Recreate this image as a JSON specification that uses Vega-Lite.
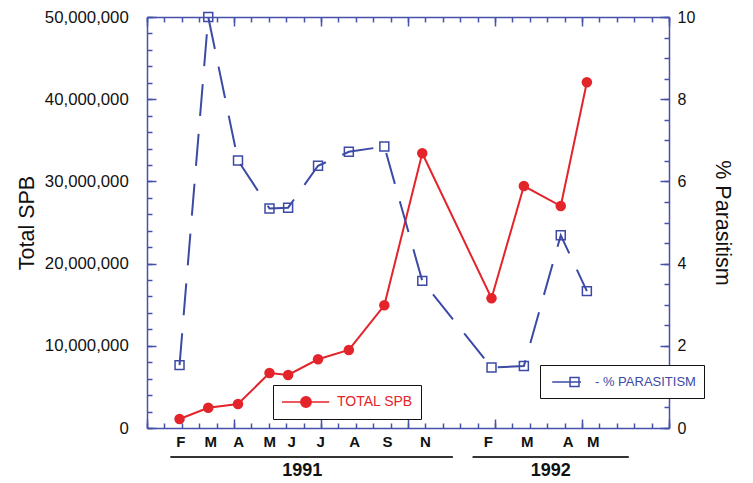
{
  "$schema": "https://vega.github.io/schema/vega-lite/v6.json",
  "width": 522,
  "height": 411,
  "padding": {"left": 16, "top": 9, "right": 5, "bottom": 5},
  "background": "white",
  "config": {
    "view": {"stroke": null},
    "axis": {
      "domain": false,
      "grid": false,
      "tickColor": "#4652a8",
      "tickWidth": 1.5,
      "tickOpacity": 1,
      "domainColor": "#4652a8",
      "domainWidth": 1.5,
      "labelFont": "Liberation Sans",
      "titleFont": "Liberation Sans",
      "labelColor": "#111111",
      "titleColor": "#111111",
      "titleFontWeight": "normal",
      "labelFlush": false,
      "labelOverlap": false
    }
  },
  "data": {
    "values": [
      {"year": 1991, "month": "F", "t": 1.87, "spb": 1100000, "pct": 1.53},
      {"year": 1991, "month": "M", "t": 3.52, "spb": 2470000, "pct": 10.0},
      {"year": 1991, "month": "A", "t": 5.23, "spb": 2920000, "pct": 6.51},
      {"year": 1991, "month": "M", "t": 7.04, "spb": 6690000, "pct": 5.34},
      {"year": 1991, "month": "J", "t": 8.11, "spb": 6450000, "pct": 5.36},
      {"year": 1991, "month": "J", "t": 9.83, "spb": 8360000, "pct": 6.38},
      {"year": 1991, "month": "A", "t": 11.6, "spb": 9490000, "pct": 6.72},
      {"year": 1991, "month": "S", "t": 13.64, "spb": 14930000, "pct": 6.85},
      {"year": 1991, "month": "N", "t": 15.82, "spb": 33420000, "pct": 3.58},
      {"year": 1992, "month": "F", "t": 19.8, "spb": 15780000, "pct": 1.47},
      {"year": 1992, "month": "M", "t": 21.66, "spb": 29440000, "pct": 1.51},
      {"year": 1992, "month": "A", "t": 23.78, "spb": 27000000, "pct": 4.69},
      {"year": 1992, "month": "M", "t": 25.28, "spb": 42060000, "pct": 3.33}
    ]
  },
  "layer": [
    {
      "layer": [
        {
          "mark": {"type": "line", "color": "#e3242b", "strokeWidth": 2},
          "encoding": {
            "x": {
              "field": "t", "type": "quantitative",
              "scale": {"domain": [0, 30], "nice": false, "zero": false},
              "axis": {
                "orient": "bottom",
                "values": [1.91, 3.64, 5.24, 7.02, 8.28, 9.95, 11.9, 13.79, 15.97, 19.59, 21.83, 24.18, 25.62],
                "labelExpr": "['F','M','A','M','J','J','A','S','N','F','M','A','M'][indexof([1.91,3.64,5.24,7.02,8.28,9.95,11.9,13.79,15.97,19.59,21.83,24.18,25.62], datum.value)]",
                "ticks": false, "tickSize": 0,
                "labelPadding": 6, "labelFontSize": 15, "labelFontWeight": "bold",
                "labelBaseline": "top", "labelColor": "#111111",
                "title": null
              }
            },
            "y": {
              "field": "spb", "type": "quantitative",
              "scale": {"domain": [0, 50000000], "nice": false, "zero": false},
              "axis": {
                "orient": "left",
                "values": [0, 10000000, 20000000, 30000000, 40000000, 50000000],
                "format": ",d",
                "domain": true, "ticks": true, "tickSize": -9, "zindex": 1,
                "labelPadding": 27.7, "labelFontSize": 16.8,
                "title": "Total SPB", "titleFontSize": 21.5, "titlePadding": 6
              }
            }
          }
        },
        {
          "mark": {"type": "point", "shape": "circle", "filled": true, "size": 110, "opacity": 1},
          "encoding": {
            "x": {
              "field": "t", "type": "quantitative",
              "axis": {
                "orient": "bottom",
                "values": [0,1,2,3,4,5,6,7,8,9,10,11,12,13,14,15,16,17,18,19,20,21,22,23,24,25,26,27,28,29,30],
                "labels": false, "ticks": true, "tickSize": -5, "zindex": 1, "title": null
              }
            },
            "y": {
              "field": "spb", "type": "quantitative",
              "axis": {
                "orient": "left",
                "values": [0,2000000,4000000,6000000,8000000,10000000,12000000,14000000,16000000,18000000,20000000,22000000,24000000,26000000,28000000,30000000,32000000,34000000,36000000,38000000,40000000,42000000,44000000,46000000,48000000,50000000],
                "labels": false, "ticks": true, "tickSize": -5, "zindex": 1, "title": null
              }
            },
            "color": {
              "datum": "TOTAL SPB", "type": "nominal",
              "scale": {"domain": ["TOTAL SPB"], "range": ["#e3242b"]},
              "legend": {
                "title": null, "orient": "none", "legendX": 126, "legendY": 368, "zindex": 3,
                "symbolType": "M-1,0H4.9M2.65,0A0.65,0.65,0,1,1,1.35,0A0.65,0.65,0,1,1,2.65,0Z",
                "symbolSize": 256,
                "symbolFillColor": "#e3242b", "symbolStrokeColor": "#e3242b", "symbolStrokeWidth": 1.5,
                "labelColor": "#e3242b", "labelFontSize": 14, "labelFont": "Liberation Sans",
                "labelOffset": 38, "padding": 8,
                "strokeColor": "#111111", "fillColor": "white",
                "encode": {"legend": {"update": {"strokeWidth": {"value": 1.5}}}}
              }
            }
          }
        },
        {
          "data": {"values": [
            {"year": "1991", "from": 1.34, "to": 17.58, "mid": 8.92},
            {"year": "1992", "from": 18.71, "to": 27.69, "mid": 23.21}
          ]},
          "mark": {"type": "rule", "color": "#333333", "strokeWidth": 2},
          "encoding": {
            "x": {
              "field": "from", "type": "quantitative",
              "axis": {
                "orient": "bottom", "values": [0,5,10,15,20,25,30],
                "labels": false, "domain": true, "ticks": true, "tickSize": -9, "zindex": 1, "title": null
              }
            },
            "x2": {"field": "to"},
            "y": {"datum": -3530000, "type": "quantitative", "axis": null}
          }
        },
        {
          "data": {"values": [
            {"year": "1991", "from": 1.34, "to": 17.58, "mid": 8.92},
            {"year": "1992", "from": 18.71, "to": 27.69, "mid": 23.21}
          ]},
          "mark": {"type": "text", "fontSize": 18, "fontWeight": "bold", "font": "Liberation Sans", "color": "#111111", "baseline": "middle"},
          "encoding": {
            "x": {"field": "mid", "type": "quantitative", "axis": null},
            "y": {"datum": -5230000, "type": "quantitative", "axis": null},
            "text": {"field": "year"}
          }
        }
      ],
      "resolve": {"axis": {"x": "independent", "y": "independent"}}
    },
    {
      "layer": [
        {
          "mark": {"type": "line", "color": "#3c4aa6", "strokeWidth": 2, "strokeDash": [32, 18]},
          "encoding": {
            "x": {
              "field": "t", "type": "quantitative",
              "axis": {
                "orient": "top",
                "values": [0,1,2,3,4,5,6,7,8,9,10,11,12,13,14,15,16,17,18,19,20,21,22,23,24,25,26,27,28,29,30],
                "labels": false, "ticks": true, "tickSize": -5, "zindex": 1, "title": null
              }
            },
            "y": {
              "field": "pct", "type": "quantitative",
              "scale": {"domain": [0, 10], "nice": false, "zero": false},
              "axis": {
                "orient": "right", "values": [0, 2, 4, 6, 8, 10], "format": "d",
                "domain": true, "ticks": true, "tickSize": -9, "zindex": 1,
                "labelPadding": 17, "labelFontSize": 16,
                "title": "% Parasitism", "titleFontSize": 21.5, "titlePadding": 16
              }
            }
          }
        },
        {
          "mark": {"type": "point", "shape": "square", "filled": false, "size": 80, "strokeWidth": 1.5, "opacity": 1},
          "encoding": {
            "x": {
              "field": "t", "type": "quantitative",
              "axis": {
                "orient": "top", "values": [0,5,10,15,20,25,30],
                "labels": false, "domain": true, "ticks": true, "tickSize": -9, "zindex": 1, "title": null
              }
            },
            "y": {
              "field": "pct", "type": "quantitative",
              "axis": {
                "orient": "right",
                "values": [0,0.5,1,1.5,2,2.5,3,3.5,4,4.5,5,5.5,6,6.5,7,7.5,8,8.5,9,9.5,10],
                "labels": false, "ticks": true, "tickSize": -5, "zindex": 1, "title": null
              }
            },
            "color": {
              "datum": "- % PARASITISM", "type": "nominal",
              "scale": {"domain": ["- % PARASITISM"], "range": ["#3c4aa6"]},
              "legend": {
                "title": null, "orient": "none", "legendX": 393, "legendY": 348, "zindex": 3,
                "symbolType": "M-0.6,0H3.0M1.63,-0.56H2.75V0.56H1.63Z",
                "symbolSize": 256,
                "symbolFillColor": "transparent", "symbolStrokeColor": "#3c4aa6", "symbolStrokeWidth": 1.5,
                "labelColor": "#3c4aa6", "labelFontSize": 13, "labelFont": "Liberation Sans",
                "labelOffset": 29, "padding": 8,
                "strokeColor": "#111111", "fillColor": "white",
                "encode": {"legend": {"update": {"strokeWidth": {"value": 1.5}}}}
              }
            }
          }
        }
      ],
      "resolve": {"axis": {"x": "independent", "y": "independent"}}
    }
  ],
  "resolve": {
    "scale": {"y": "independent", "color": "independent"},
    "axis": {"x": "independent", "y": "independent"}
  }
}
